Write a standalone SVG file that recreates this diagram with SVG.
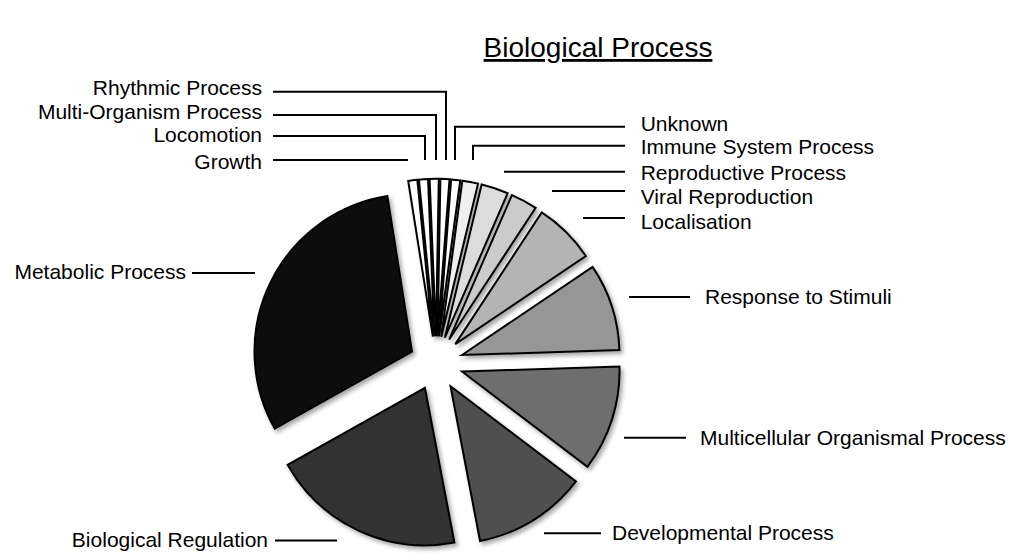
<svg xmlns="http://www.w3.org/2000/svg" width="1022" height="555" viewBox="0 0 1022 555">
<style>
.lbl{font-family:"Liberation Sans",Arial,sans-serif;font-size:21px;fill:#000}
.ttl{font-family:"Liberation Sans",Arial,sans-serif;font-size:28px;fill:#000;text-decoration:underline}
.s{stroke:#000;stroke-width:2;stroke-linejoin:miter}
.ld{fill:none;stroke:#000;stroke-width:2}
</style>
<defs>
<filter id="sh" x="-20%" y="-20%" width="140%" height="140%">
<feDropShadow dx="2.5" dy="3" stdDeviation="2.2" flood-color="#000" flood-opacity="0.35"/>
</filter>
</defs>
<rect width="1022" height="555" fill="#fff"/>
<text class="ttl" x="598" y="57" text-anchor="middle">Biological Process</text>
<g id="slices" filter="url(#sh)">
<g id="metabolic"><path class="s" fill="#111" d="M412.0 351.53 L274.65 428.61 A157.5 157.5 0 0 1 387.36 195.97 Z"/></g>
<g id="bioreg"><path class="s" fill="#303030" d="M424.91 387.78 L454.42 542.49 A157.5 157.5 0 0 1 287.56 464.86 Z"/></g>
<g id="developmental"><path class="s" fill="#505050" d="M450.53 386.25 L575.98 481.47 A157.5 157.5 0 0 1 480.04 540.96 Z"/></g>
<g id="multicellular"><path class="s" fill="#6e6e6e" d="M462.02 371.51 L619.44 366.56 A157.5 157.5 0 0 1 587.47 466.73 Z"/></g>
<g id="response"><path class="s" fill="#969696" d="M461.99 355.0 L592.56 266.93 A157.5 157.5 0 0 1 619.41 350.05 Z"/></g>
<g id="localisation"><path class="s" fill="#b4b4b4" d="M455.28 344.09 L541.75 212.45 A157.5 157.5 0 0 1 585.85 256.02 Z"/></g>
<g id="viral"><path class="s" fill="#cbcbcb" d="M449.14 339.55 L511.94 195.11 A157.5 157.5 0 0 1 535.61 207.91 Z"/></g>
<g id="reproductive"><path class="s" fill="#dcdcdc" d="M444.87 337.70 L481.64 184.55 A157.5 157.5 0 0 1 507.67 193.26 Z"/></g>
<g id="immune"><path class="s" fill="#efefef" d="M441.27 336.76 L462.37 180.68 A157.5 157.5 0 0 1 478.04 183.61 Z"/></g>
<g id="unknown"><path class="s" fill="#fff" d="M439.14 336.45 L451.11 179.41 A157.5 157.5 0 0 1 460.24 180.37 Z"/></g>
<g id="rhythmic"><path class="s" fill="#fff" d="M437.57 336.33 L440.37 178.86 A157.5 157.5 0 0 1 449.54 179.29 Z"/></g>
<g id="multiorg"><path class="s" fill="#fff" d="M435.99 336.30 L429.61 178.93 A157.5 157.5 0 0 1 438.79 178.83 Z"/></g>
<g id="locomotion"><path class="s" fill="#fff" d="M434.42 336.37 L418.89 179.64 A157.5 157.5 0 0 1 428.04 179.0 Z"/></g>
<g id="growth"><path class="s" fill="#fff" d="M432.86 336.52 L408.23 180.96 A157.5 157.5 0 0 1 417.33 179.79 Z"/></g>
</g>
<g id="connectors">
<path class="ld" d="M273 91.7 H446 V160"/>
<path class="ld" d="M273 115 H436 V160"/>
<path class="ld" d="M273 136 H425 V160"/>
<path class="ld" d="M273 160 H408"/>
<path class="ld" d="M455 160 V126.7 H625"/>
<path class="ld" d="M473 160 V145.7 H625"/>
<path class="ld" d="M504 171.7 H625"/>
<path class="ld" d="M552 191 H625"/>
<path class="ld" d="M583 218 H625"/>
<path class="ld" d="M192 273 H255"/>
<path class="ld" d="M629 297 H690"/>
<path class="ld" d="M624 437.7 H686"/>
<path class="ld" d="M544 533.3 H601"/>
<path class="ld" d="M275 540.5 H337"/>
</g>
<g id="labels">
<text class="lbl" x="262" y="95" text-anchor="end">Rhythmic Process</text>
<text class="lbl" x="262" y="119" text-anchor="end">Multi-Organism Process</text>
<text class="lbl" x="262" y="142" text-anchor="end">Locomotion</text>
<text class="lbl" x="262" y="169" text-anchor="end">Growth</text>
<text class="lbl" x="640.7" y="131" >Unknown</text>
<text class="lbl" x="640.7" y="154">Immune System Process</text>
<text class="lbl" x="640.7" y="179.5">Reproductive Process</text>
<text class="lbl" x="640.7" y="204">Viral Reproduction</text>
<text class="lbl" x="640.7" y="228.5">Localisation</text>
<text class="lbl" x="186" y="279" text-anchor="end">Metabolic Process</text>
<text class="lbl" x="705" y="304">Response to Stimuli</text>
<text class="lbl" x="700" y="445">Multicellular Organismal Process</text>
<text class="lbl" x="612" y="540">Developmental Process</text>
<text class="lbl" x="268" y="547" text-anchor="end">Biological Regulation</text>
</g>
</svg>
